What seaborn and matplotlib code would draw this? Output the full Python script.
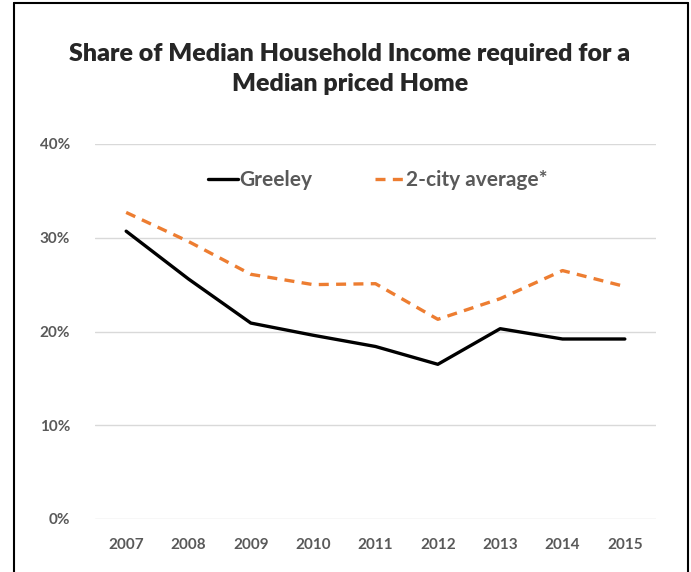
import matplotlib
matplotlib.use('Agg')
import matplotlib.pyplot as plt
from matplotlib.lines import Line2D
from matplotlib.ticker import FuncFormatter
import seaborn as sns
import pandas as pd

# 数据
years = [2007, 2008, 2009, 2010, 2011, 2012, 2013, 2014, 2015]
greeley = [30.7, 25.6, 20.9, 19.6, 18.4, 16.5, 20.3, 19.2, 19.2]
two_city = [32.7, 29.6, 26.1, 25.0, 25.1, 21.3, 23.5, 26.5, 24.8]
yticks = [0, 10, 20, 30, 40]

df = pd.DataFrame({'year': years, 'Greeley': greeley, '2-city average*': two_city})

sns.set_style('white')
plt.rcParams['font.family'] = ['Lato', 'DejaVu Sans']

fig = plt.figure(figsize=(6.91, 5.72), dpi=100)
ax = fig.add_axes([95 / 691, 53 / 572, 561 / 691, 375 / 572])

# 折线
sns.lineplot(data=df, x='year', y='Greeley', color='black', lw=2.4, ax=ax, label='Greeley')
sns.lineplot(data=df, x='year', y='2-city average*', color='#ED7D31', lw=2.4,
             ax=ax, label='2-city average*')
ax.lines[1].set_dashes([3.0, 2.2])

ax.set_xlim(2006.5, 2015.5)
ax.set_ylim(0, 40)
ax.set_xticks(years)
ax.set_yticks(yticks)
ax.yaxis.set_major_formatter(FuncFormatter(lambda v, p: '%d%%' % v))
ax.grid(axis='y', color='#d9d9d9', lw=1)
for s in ax.spines.values():
    s.set_visible(False)
ax.tick_params(axis='both', length=0, labelsize=11, labelcolor='#595959')
ax.tick_params(axis='x', pad=14)
ax.tick_params(axis='y', pad=18)
for t in ax.get_xticklabels() + ax.get_yticklabels():
    t.set_fontweight('bold')
ax.set_xlabel('')
ax.set_ylabel('')

# 图例
leg = ax.legend(loc='upper center', bbox_to_anchor=(0.505, 0.98), ncol=2, frameon=False,
                handlelength=1.4, handletextpad=0.1, columnspacing=3.0,
                prop={'weight': 'bold', 'size': 15})
for t in leg.get_texts():
    t.set_color('#595959')

# 标题
fig.text(350 / 691, 1 - 69 / 572, 'Share of Median Household Income required for a\nMedian priced Home',
         ha='center', va='center', fontsize=18, fontweight='heavy', linespacing=1.45)

# 外框
fig.add_artist(Line2D([14 / 691, 14 / 691], [0, 1 - 3 / 572], color='black', lw=1.5))
fig.add_artist(Line2D([14 / 691, 688 / 691], [1 - 3 / 572, 1 - 3 / 572], color='black', lw=1.5))
fig.add_artist(Line2D([688 / 691, 688 / 691], [0, 1 - 3 / 572], color='black', lw=1.5))

fig.savefig('out.png', dpi=100)
